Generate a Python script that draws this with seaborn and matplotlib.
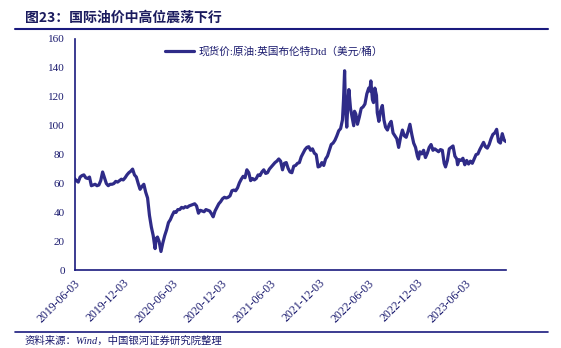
import matplotlib
matplotlib.use("Agg")
import matplotlib.pyplot as plt
import seaborn as sns
import pandas as pd

# ---- data ----
dates = [
    "2019-06-03","2019-06-10","2019-06-17","2019-06-24","2019-07-01","2019-07-08","2019-07-15","2019-07-22",
    "2019-07-29","2019-08-05","2019-08-12","2019-08-19","2019-08-26","2019-09-02","2019-09-09","2019-09-16",
    "2019-09-23","2019-09-30","2019-10-07","2019-10-14","2019-10-21","2019-10-28","2019-11-04","2019-11-11",
    "2019-11-18","2019-11-25","2019-12-02","2019-12-09","2019-12-16","2019-12-23","2019-12-30",
    "2020-01-06","2020-01-13","2020-01-20","2020-01-27","2020-02-03","2020-02-10","2020-02-17","2020-02-24",
    "2020-03-02","2020-03-09","2020-03-16","2020-03-23","2020-03-30","2020-04-03","2020-04-08","2020-04-14",
    "2020-04-21","2020-04-28","2020-05-05","2020-05-12","2020-05-19","2020-05-26","2020-06-02","2020-06-09",
    "2020-06-16","2020-06-23","2020-06-30","2020-07-07","2020-07-14","2020-07-21","2020-07-28","2020-08-04",
    "2020-08-11","2020-08-18","2020-08-25","2020-09-01","2020-09-08","2020-09-15","2020-09-22","2020-09-29",
    "2020-10-06","2020-10-13","2020-10-20","2020-10-27","2020-11-02","2020-11-09","2020-11-16","2020-11-23",
    "2020-11-30","2020-12-07","2020-12-14","2020-12-21","2020-12-28",
    "2021-01-04","2021-01-11","2021-01-18","2021-01-25","2021-02-01","2021-02-08","2021-02-15","2021-02-22",
    "2021-03-01","2021-03-08","2021-03-15","2021-03-22","2021-03-29","2021-04-05","2021-04-12","2021-04-19",
    "2021-04-26","2021-05-03","2021-05-10","2021-05-17","2021-05-24","2021-05-31","2021-06-07","2021-06-14",
    "2021-06-21","2021-06-28","2021-07-05","2021-07-12","2021-07-19","2021-07-26","2021-08-02","2021-08-09",
    "2021-08-16","2021-08-23","2021-08-30","2021-09-06","2021-09-13","2021-09-20","2021-09-27","2021-10-04",
    "2021-10-11","2021-10-18","2021-10-25","2021-11-01","2021-11-08","2021-11-15","2021-11-22","2021-11-29",
    "2021-12-06","2021-12-13","2021-12-20","2021-12-27",
    "2022-01-03","2022-01-10","2022-01-17","2022-01-24","2022-01-31","2022-02-07","2022-02-14","2022-02-21",
    "2022-02-28","2022-03-04","2022-03-08","2022-03-11","2022-03-16","2022-03-21","2022-03-24","2022-03-30",
    "2022-04-05","2022-04-11","2022-04-14","2022-04-19","2022-04-25","2022-05-02","2022-05-09","2022-05-16",
    "2022-05-23","2022-05-30","2022-06-06","2022-06-10","2022-06-14","2022-06-20","2022-06-24","2022-06-29",
    "2022-07-05","2022-07-08","2022-07-14","2022-07-20","2022-07-27","2022-08-02","2022-08-08","2022-08-15",
    "2022-08-22","2022-08-29","2022-09-05","2022-09-12","2022-09-19","2022-09-26","2022-10-03","2022-10-10",
    "2022-10-17","2022-10-24","2022-10-31","2022-11-07","2022-11-14","2022-11-21","2022-11-28","2022-12-05",
    "2022-12-09","2022-12-14","2022-12-21","2022-12-28",
    "2023-01-04","2023-01-11","2023-01-18","2023-01-25","2023-02-01","2023-02-08","2023-02-15","2023-02-22",
    "2023-03-01","2023-03-08","2023-03-15","2023-03-20","2023-03-27","2023-04-03","2023-04-10","2023-04-17",
    "2023-04-24","2023-05-01","2023-05-04","2023-05-10","2023-05-17","2023-05-24","2023-05-31","2023-06-07",
    "2023-06-14","2023-06-21","2023-06-28","2023-07-05","2023-07-12","2023-07-19","2023-07-26","2023-08-02",
    "2023-08-09","2023-08-16","2023-08-23","2023-08-30","2023-09-06","2023-09-13","2023-09-20","2023-09-27",
    "2023-10-04","2023-10-11","2023-10-18","2023-10-25","2023-11-01",
]
brent = [
    63.5, 62, 61, 64.5, 65.5, 66, 64, 63.5,
    64.5, 58.5, 59, 59.5, 58.5, 59, 62, 68,
    64, 60, 58.5, 59.5, 59.5, 60, 61.5, 61,
    62, 63, 62.5, 64, 66, 67.5, 68.5,
    70, 66, 64.5, 60, 56, 58, 59.5, 54,
    50, 38, 30, 24, 15, 22, 23, 20,
    13, 19, 24, 28, 33, 35, 38, 40.5,
    40, 42, 42, 43.5, 43, 44, 43.5, 44.5,
    45, 45.5, 46, 44.5, 39.5, 41.5, 41, 40.5,
    42, 41.5, 41, 39, 37, 41, 43.5, 46,
    47.5, 49.5, 50.5, 50, 50.5,
    51.5, 55, 55.5, 55, 57, 60.5, 63, 65,
    64, 69.5, 67.5, 62, 63.5, 62.5, 63.5, 66,
    65.5, 68, 69.5, 67, 67.5, 70, 71.5, 73,
    74.5, 75.5, 77, 75.5, 69.5, 74, 74.5, 70.5,
    68, 67.5, 72, 72.5, 74, 74.5, 78.5, 81,
    83.5, 85, 85.5, 83, 84, 81, 80, 71.5,
    72, 74.5, 72.5, 77,
    79, 83, 87, 88, 90, 93, 96.5, 98,
    104, 118, 138, 114, 99, 118, 125, 112,
    106, 100, 110, 108, 101, 106, 112, 113,
    115, 122, 126, 124, 131, 118, 116, 126,
    121, 109, 103, 110, 114, 104, 99, 97,
    101, 103, 95, 93, 91, 85, 92, 97,
    93, 92, 96, 101, 94, 88, 85, 79,
    77, 82, 80.5, 83,
    78, 81, 85, 87, 83, 84, 83, 82,
    83.5, 83, 74, 71.5, 76, 84, 85, 86,
    79, 77, 73, 76.5, 76, 77.5, 73, 76,
    73.5, 75.5, 74, 77, 80, 80.5, 83.5, 86,
    88.5, 85.5, 84.5, 87, 91, 94, 95, 97.5,
    89, 88, 94.5, 90, 89,
]
tick_dates = ["2019-06-03", "2019-12-03", "2020-06-03", "2020-12-03", "2021-06-03",
              "2021-12-03", "2022-06-03", "2022-12-03", "2023-06-03"]
y_ticks = [0, 20, 40, 60, 80, 100, 120, 140, 160]
series_name = "现货价:原油:英国布伦特Dtd（美元/桶）"
title_text = "图23：国际油价中高位震荡下行"
source_text = "资料来源：Wind，中国银河证券研究院整理"

df = pd.DataFrame({"date": pd.to_datetime(dates), "value": brent})

sns.set_style("white")
plt.rcParams["font.family"] = ["Liberation Serif", "Noto Sans CJK SC", "DejaVu Sans"]

LINE = "#2F2B88"
AXC = "#1A1A7E"
TXT = "#1A1A6E"

fig = plt.figure(figsize=(5.61, 3.48), dpi=100)
ax = fig.add_axes([0.1328, 0.2233, 0.902 - 0.1328, 0.888 - 0.2233])

sns.lineplot(data=df, x="date", y="value", ax=ax, color=LINE, linewidth=2.3,
             label=series_name)

ax.set_xlim(pd.Timestamp(dates[0]), pd.Timestamp(dates[-1]))
ax.set_ylim(0, 160)
ax.set_yticks(y_ticks)
ax.set_yticklabels([str(v) for v in y_ticks], fontsize=8, color=TXT,
                   family=["Liberation Serif"])
ax.set_xticks(pd.to_datetime(tick_dates))
ax.set_xticklabels(tick_dates, rotation=45, ha="right", rotation_mode="anchor",
                   fontsize=8.5, color=TXT, family=["Liberation Serif"])
ax.set_xlabel("")
ax.set_ylabel("")

for s in ["top", "right"]:
    ax.spines[s].set_visible(False)
for s in ["left", "bottom"]:
    ax.spines[s].set_color(AXC)
    ax.spines[s].set_linewidth(1.2)
ax.tick_params(axis="both", direction="in", length=3, width=1, color=AXC)
ax.tick_params(axis="y", pad=7)
ax.tick_params(axis="x", pad=5)

leg = ax.legend(loc="upper center", bbox_to_anchor=(0.463, 1.0), frameon=False,
                handlelength=2.7, handletextpad=0.4, fontsize=7.7, borderaxespad=0.3)
for t in leg.get_texts():
    t.set_color(TXT)
    t.set_family(["Liberation Serif", "Noto Sans CJK SC"])

fig.text(25 / 561, 1 - 18 / 348, title_text, fontsize=10, fontweight="bold",
         color="#1B1B5E", va="center", ha="left", family=["Noto Sans CJK SC"])
fig.add_artist(plt.Line2D([15 / 561, 548 / 561], [1 - 29 / 348, 1 - 29 / 348],
                          color=AXC, linewidth=1.5, transform=fig.transFigure))
fig.add_artist(plt.Line2D([15 / 561, 548 / 561], [1 - 332 / 348, 1 - 332 / 348],
                          color=AXC, linewidth=1.2, transform=fig.transFigure))
fig.text(25 / 561, 1 - 341 / 348, source_text, fontsize=7.5, style="italic",
         color=TXT, va="center", ha="left",
         family=["Liberation Serif", "Noto Sans CJK SC"])

fig.savefig("out.png", dpi=100)
